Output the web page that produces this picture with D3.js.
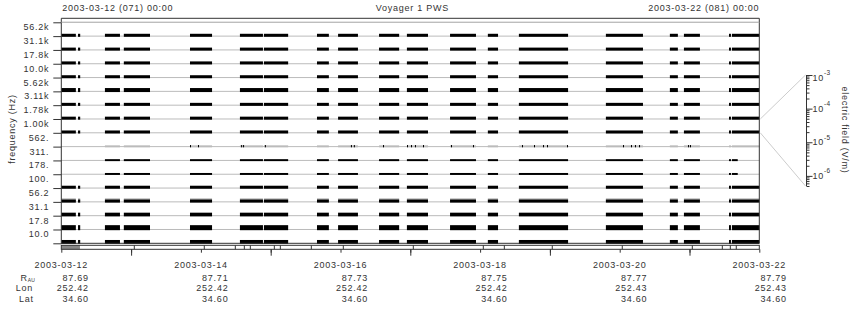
<!DOCTYPE html>
<html>
<head>
<meta charset="utf-8">
<script src="https://cdn.jsdelivr.net/npm/d3@7"></script>
<style>
  body { margin: 0; background: #fff; }
  svg text { font-family: "Liberation Sans", Arial, Helvetica, sans-serif; font-size: 9px; fill: #333; letter-spacing: 0.75px; }
</style>
</head>
<body>
<svg id="chart" width="860" height="320"></svg>
<script>
// time span of the panel
var timeStart = '2003-03-12T00:00', timeEnd = '2003-03-22T00:00'
var titleLeft = '2003-03-12 (071) 00:00', titleRight = '2003-03-22 (081) 00:00'

// channels, bottom to top
var chanLabels = ['10.0', '17.8', '31.1', '56.2', '100.', '178.', '311.', '562.',
  '1.00k', '1.78k', '3.11k', '5.62k', '10.0k', '17.8k', '31.1k', '56.2k']
// typical field level of each channel trace (V/m), black
var chanLevel = [3.1e-6, 5.4e-6, 2.6e-6, 1.8e-6, 1.8e-6, 1.0e-6, 1.0e-6, 0,
  1.8e-6, 1.8e-6, 1.8e-6, 3.1e-6, 1.8e-6, 1.8e-6, 1.8e-6, 1.8e-6]
// peak level (V/m), drawn gray
var chanPeak = [0, 0, 0, 3.6e-6, 0, 0, 0, 1.0e-6, 0, 0, 0, 0, 0, 0, 0, 0]
// channels with no data in the first two intervals
var quietChans = ['178.', '311.', '562.']
var quietLastEnd = '2003-03-21T16:35'

// data intervals (tracking passes)
var segStart = ['2003-03-12T00:00', '2003-03-12T05:45', '2003-03-12T15:00', '2003-03-12T21:30',
  '2003-03-13T20:15', '2003-03-14T13:25', '2003-03-14T21:40', '2003-03-15T15:55',
  '2003-03-15T23:10', '2003-03-16T13:15', '2003-03-16T22:50', '2003-03-17T13:40',
  '2003-03-18T02:40', '2003-03-18T13:20', '2003-03-19T19:15', '2003-03-20T17:15',
  '2003-03-20T22:05', '2003-03-21T13:35', '2003-03-21T14:35']
var segEnd = ['2003-03-12T05:00', '2003-03-12T06:30', '2003-03-12T20:10', '2003-03-13T06:30',
  '2003-03-14T03:50', '2003-03-14T21:20', '2003-03-15T06:00', '2003-03-15T20:00',
  '2003-03-16T06:00', '2003-03-16T20:10', '2003-03-17T06:05', '2003-03-17T22:35',
  '2003-03-18T06:10', '2003-03-19T06:15', '2003-03-20T08:00', '2003-03-20T20:00',
  '2003-03-21T03:35', '2003-03-21T14:15', '2003-03-22T00:00']

// short bursts seen in the 562 Hz channel
var spikes562 = ['2003-03-13T20:15', '2003-03-13T23:00', '2003-03-14T13:50', '2003-03-14T14:30',
  '2003-03-14T22:00', '2003-03-16T03:35', '2003-03-16T04:35', '2003-03-16T14:37',
  '2003-03-16T22:52', '2003-03-17T00:15', '2003-03-17T01:36', '2003-03-17T04:22',
  '2003-03-17T14:00', '2003-03-17T21:33', '2003-03-18T14:24', '2003-03-18T18:32',
  '2003-03-18T21:38', '2003-03-18T23:00', '2003-03-19T05:53', '2003-03-20T01:08',
  '2003-03-20T03:53', '2003-03-20T05:15', '2003-03-20T06:39', '2003-03-20T23:30',
  '2003-03-21T00:10']

// file coverage strip
var coveredEnd = '2003-03-12T06:25'
var fileBreaks = ['2003-03-13T01:06', '2003-03-14T01:10', '2003-03-14T11:50', '2003-03-14T14:56',
  '2003-03-14T17:00', '2003-03-15T01:15', '2003-03-15T03:19', '2003-03-15T13:58',
  '2003-03-16T00:58', '2003-03-17T01:02', '2003-03-18T01:06', '2003-03-18T08:20',
  '2003-03-19T00:49', '2003-03-20T00:53', '2003-03-21T00:58', '2003-03-21T11:17',
  '2003-03-21T14:02', '2003-03-21T16:05']

// ephemeris table
var ephDates = ['2003-03-12', '2003-03-14', '2003-03-16', '2003-03-18', '2003-03-20', '2003-03-22']
var ephR = ['87.69', '87.71', '87.73', '87.75', '87.77', '87.79']
var ephLon = ['252.42', '252.42', '252.42', '252.42', '252.43', '252.43']
var ephLat = ['34.60', '34.60', '34.60', '34.60', '34.60', '34.60']

// colorbar
var fieldMin = 5e-7, fieldMax = 1e-3
var fieldDecades = [-3, -4, -5, -6]

var dark = '#333', grid = '#bbb'
var parse = d3.utcParse('%Y-%m-%dT%H:%M')
var plot = { left: 61.3, right: 759.3, top: 18.3, bandTop: 22.3, bottom: 243.3 }

var svg = d3.select('#chart')

var x = d3.scaleUtc()
  .domain([parse(timeStart), parse(timeEnd)])
  .range([plot.left, plot.right])
var y = d3.scaleBand()
  .domain(chanLabels)
  .range([plot.bottom, plot.bandTop])
var bw = y.bandwidth()
var yEdge = d3.scaleLinear().domain([0, chanLabels.length]).range([plot.bottom, plot.bandTop])
var field = d3.scaleLog().domain([fieldMin, fieldMax]).range([bw, 0])

// band boundary lines
svg.append('g').selectAll('line')
  .data(d3.range(1, chanLabels.length + 1))
  .join('line')
  .attr('x1', plot.left).attr('x2', plot.right)
  .attr('y1', function (d) { return yEdge(d) }).attr('y2', function (d) { return yEdge(d) })
  .attr('stroke', grid).attr('stroke-width', 1)

// channel traces
var traces = []
chanLabels.forEach(function (ch, ci) {
  var quiet = quietChans.indexOf(ch) >= 0
  segStart.forEach(function (s, si) {
    if (quiet && si < 2) return
    var e = segEnd[si]
    if (quiet && ch !== '562.' && si === segStart.length - 1) e = quietLastEnd
    traces.push({ ch: ch, ci: ci, t0: parse(s), t1: parse(e) })
  })
})

svg.append('g').selectAll('rect')
  .data(traces.filter(function (d) { return chanPeak[d.ci] > 0 }))
  .join('rect')
  .attr('x', function (d) { return x(d.t0) })
  .attr('width', function (d) { return Math.max(1, x(d.t1) - x(d.t0)) })
  .attr('y', function (d) { return y(d.ch) + field(chanPeak[d.ci]) })
  .attr('height', function (d) { return bw - field(chanPeak[d.ci]) + 0.7 })
  .attr('fill', grid)

svg.append('g').selectAll('rect')
  .data(traces.filter(function (d) { return chanLevel[d.ci] > 0 }))
  .join('rect')
  .attr('x', function (d) { return x(d.t0) })
  .attr('width', function (d) { return Math.max(1, x(d.t1) - x(d.t0)) })
  .attr('y', function (d) { return y(d.ch) + field(chanLevel[d.ci]) })
  .attr('height', function (d) { return bw - field(chanLevel[d.ci]) + 0.7 })
  .attr('fill', '#000')

svg.append('g').selectAll('rect')
  .data(spikes562)
  .join('rect')
  .attr('x', function (d) { return x(parse(d)) })
  .attr('width', 1)
  .attr('y', y('562.') + field(1.2e-6))
  .attr('height', bw - field(1.2e-6) + 0.7)
  .attr('fill', '#000')

// frame
svg.append('path')
  .attr('d', 'M' + plot.left + ',' + plot.bottom + 'V' + plot.top + 'H' + plot.right + 'V' + plot.bottom + 'Z')
  .attr('fill', 'none').attr('stroke', dark).attr('stroke-width', 1)
svg.append('line')
  .attr('x1', plot.left).attr('x2', plot.right)
  .attr('y1', plot.bandTop).attr('y2', plot.bandTop)
  .attr('stroke', grid)

// coverage strip
var strip = { top: 245.3, bottom: 249.3 }
svg.append('rect')
  .attr('x', plot.left).attr('y', strip.top)
  .attr('width', x(parse(coveredEnd)) - plot.left).attr('height', strip.bottom - strip.top)
  .attr('fill', '#888')
svg.append('g').selectAll('line')
  .data(fileBreaks)
  .join('line')
  .attr('x1', function (d) { return x(parse(d)) }).attr('x2', function (d) { return x(parse(d)) })
  .attr('y1', strip.top).attr('y2', strip.bottom)
  .attr('stroke', dark)
svg.append('rect')
  .attr('x', plot.left).attr('y', strip.top)
  .attr('width', plot.right - plot.left).attr('height', strip.bottom - strip.top)
  .attr('fill', 'none').attr('stroke', dark)

// x axis ticks under the strip
var xMajor = svg.append('g')
  .attr('transform', 'translate(0,' + strip.bottom + ')')
  .call(d3.axisBottom(x).ticks(d3.utcDay.every(2)).tickSize(6.4).tickFormat(''))
xMajor.select('.domain').remove()
xMajor.selectAll('line').attr('stroke', dark)
var xMinor = svg.append('g')
  .attr('transform', 'translate(0,' + strip.bottom + ')')
  .call(d3.axisBottom(x).ticks(d3.utcDay.every(1)).tickSize(3.4).tickFormat(''))
xMinor.select('.domain').remove()
xMinor.selectAll('line').attr('stroke', dark)

// y axis: boundary ticks and channel labels
var yTicks = svg.append('g')
  .attr('transform', 'translate(' + plot.left + ',0)')
  .call(d3.axisLeft(yEdge).tickValues(d3.range(chanLabels.length + 1)).tickSize(8).tickFormat(''))
yTicks.select('.domain').remove()
yTicks.selectAll('line').attr('stroke', dark)
var yLab = svg.append('g')
  .attr('transform', 'translate(' + plot.left + ',0)')
  .call(d3.axisLeft(y).tickSize(0).tickPadding(12))
yLab.select('.domain').remove()
yLab.attr('font-size', null).attr('font-family', null)
yLab.selectAll('text')
  .attr('dy', null).attr('y', -1.3)
  .attr('dominant-baseline', 'middle')

svg.append('text')
  .attr('transform', 'translate(15,129) rotate(-90)')
  .attr('text-anchor', 'middle')
  .text('frequency (Hz)')

// titles
svg.append('text').attr('x', plot.left + 1).attr('y', 10.5).text(titleLeft)
svg.append('text').attr('x', (plot.left + plot.right) / 2 + 2).attr('y', 11)
  .attr('text-anchor', 'middle').text('Voyager 1 PWS')
svg.append('text').attr('x', plot.right).attr('y', 10.5)
  .attr('text-anchor', 'end').text(titleRight)

// ephemeris table
var rows = [{ y: 268, vals: ephDates }, { y: 280.5, vals: ephR }, { y: 291, vals: ephLon }, { y: 301.7, vals: ephLat }]
rows.forEach(function (r, ri) {
  svg.append('g').selectAll('text')
    .data(r.vals)
    .join('text')
    .attr('x', function (d, i) { return x(parse(ephDates[i] + 'T00:00')) + (ri === 0 ? 0 : 27.5) })
    .attr('y', r.y)
    .attr('text-anchor', ri === 0 ? 'middle' : 'end')
    .text(function (d) { return d })
})
var rLab = svg.append('text').attr('x', 20.5).attr('y', 280.5)
rLab.append('tspan').text('R')
rLab.append('tspan').attr('dy', 1.5).style('font-size', '5px').style('letter-spacing', '0.2px').text('AU')
svg.append('text').attr('x', 24.5).attr('y', 291).attr('text-anchor', 'middle').text('Lon')
svg.append('text').attr('x', 26.5).attr('y', 301.7).attr('text-anchor', 'middle').text('Lat')

// colorbar for the 1.00k channel
var cb = { x: 806.5, top: 75, bottom: 186 }
var cbScale = d3.scaleLog().domain([fieldMin, fieldMax]).range([cb.bottom, cb.top])
var refTop = y('1.00k'), refBot = y('1.00k') + bw
svg.append('line')
  .attr('x1', plot.right + 1).attr('y1', refTop).attr('x2', cb.x - 1).attr('y2', cb.top)
  .attr('stroke', '#ccc')
svg.append('line')
  .attr('x1', plot.right + 1).attr('y1', refBot).attr('x2', cb.x - 1).attr('y2', cb.bottom)
  .attr('stroke', '#ccc')

var minorVals = []
fieldDecades.forEach(function (p) {
  for (var m = 2; m <= 9; m++) {
    var v = m * Math.pow(10, p - 1)
    if (v >= fieldMin && v <= fieldMax) minorVals.push(v)
  }
})
var cbMinor = svg.append('g')
  .attr('transform', 'translate(' + cb.x + ',0)')
  .call(d3.axisRight(cbScale).tickValues(minorVals).tickSize(3).tickFormat(''))
cbMinor.selectAll('line').attr('stroke', dark)
cbMinor.select('.domain').attr('stroke', dark)
  .attr('d', 'M0,' + cb.top + 'V' + cb.bottom)
var cbMajor = svg.append('g')
  .attr('transform', 'translate(' + cb.x + ',0)')
  .call(d3.axisRight(cbScale).tickValues(fieldDecades.map(function (p) { return Math.pow(10, p) }))
    .tickSize(6).tickFormat(''))
cbMajor.selectAll('line').attr('stroke', dark)
cbMajor.select('.domain').remove()

fieldDecades.forEach(function (p) {
  var t = svg.append('text')
    .attr('x', 812.5)
    .attr('y', Math.max(cbScale(Math.pow(10, p)) + 3, cb.top + 5.7))
  t.append('tspan').text('10')
  t.append('tspan').attr('dy', -5.7).style('font-size', '6.5px').style('letter-spacing', '0.3px').text(p)
})

svg.append('text')
  .attr('transform', 'translate(842,130) rotate(90)')
  .attr('text-anchor', 'middle')
  .text('electric field (V/m)')
</script>
</body>
</html>
